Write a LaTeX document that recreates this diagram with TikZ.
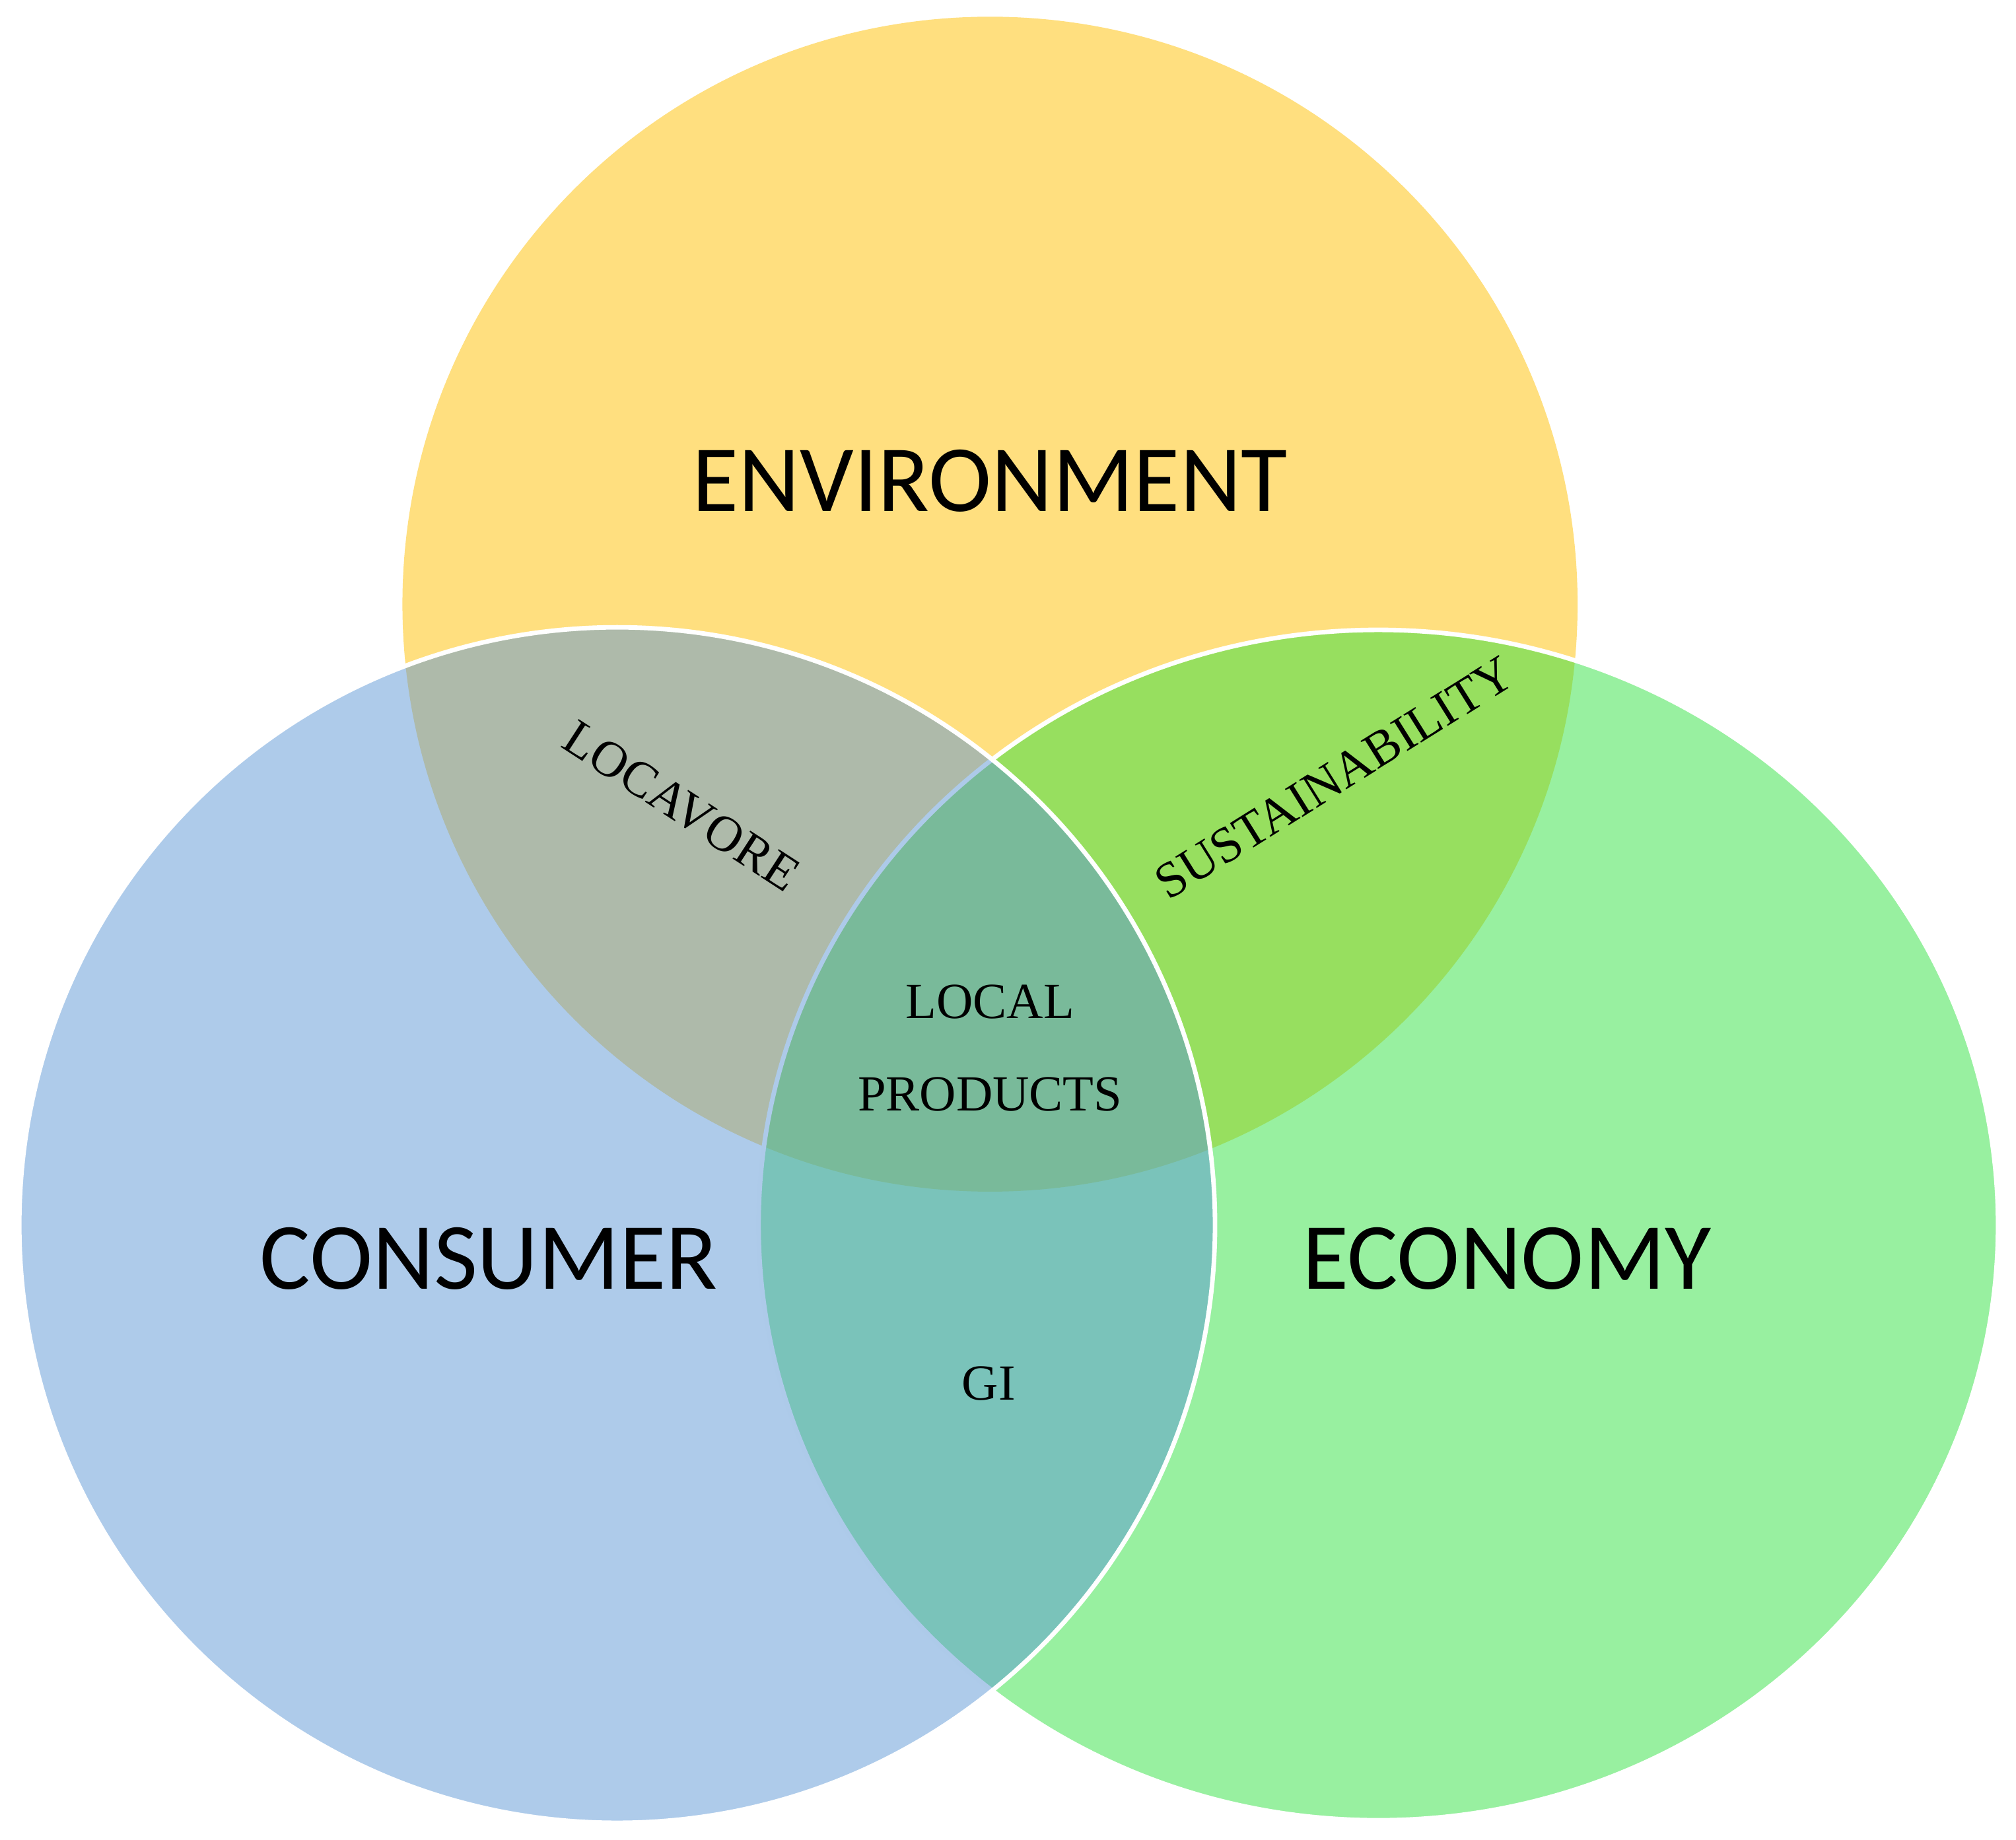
\documentclass[tikz,border=0pt]{standalone}
\usepackage{fontspec}
\setmainfont{Liberation Serif}
\setsansfont{Carlito}
\usepackage{tikz}
\usetikzlibrary{positioning}
\definecolor{envyellow}{RGB}{255,191,0}
\definecolor{ecogreen}{RGB}{49,225,65}
\definecolor{conblue}{RGB}{93,151,213}
\tikzset{venn/.style={fill opacity=0.5,draw=white,line width=1pt}}

\begin{document}
\begin{tikzpicture}[
    big/.style={font=\sffamily\fontsize{21}{25}\selectfont,anchor=base,text=black},
    small/.style={font=\fontsize{11.2}{13}\selectfont,text=black}]
    \useasboundingbox (0,0) rectangle (15.68,14.31);
    % the three sets
    \fill[envyellow,fill opacity=0.5] (7.70,9.61) circle (4.57);
    \draw[venn,fill=ecogreen] (10.72,4.78) ellipse (4.82 and 4.63);
    \draw[venn,fill=conblue] (4.80,4.78) circle (4.65);

    \node[big] (env) at (7.70,10.33) {ENVIRONMENT};
    \node[big] (cons) at (3.80,4.28) {CONSUMER};
    \node[big] (eco) at (11.72,4.28) {ECONOMY};

    \node[small,rotate=-33] (loca) at (5.30,8.04) {LOCAVORE};
    \node[small,rotate=32] (sust) at (10.38,8.26) {SUSTAINABILITY};
    \node[small,anchor=base] (local) at (7.70,6.39) {LOCAL};
    \node[small,anchor=base] (prod) at (7.70,5.67) {PRODUCTS};
    \node[small,anchor=base] (gi) at (7.69,3.42) {GI};
\end{tikzpicture}
\end{document}
